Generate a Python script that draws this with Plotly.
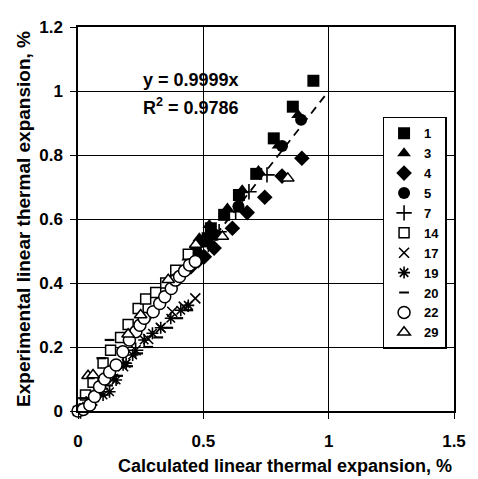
import plotly.graph_objects as go

# ---- data ----
s1_x = [0.47, 0.50, 0.517, 0.53, 0.583, 0.642, 0.711, 0.781, 0.857, 0.939]
s1_y = [0.50, 0.53, 0.54, 0.571, 0.613, 0.675, 0.741, 0.852, 0.951, 1.032]

s3_x = [0.44, 0.47, 0.484, 0.524, 0.596, 0.655, 0.72, 0.80, 0.878]
s3_y = [0.48, 0.52, 0.54, 0.581, 0.633, 0.69, 0.75, 0.83, 0.925]

s4_x = [0.45, 0.48, 0.504, 0.543, 0.616, 0.675, 0.745, 0.814, 0.893]
s4_y = [0.45, 0.47, 0.482, 0.509, 0.571, 0.620, 0.668, 0.734, 0.790]

s5_x = [0.48, 0.55, 0.64, 0.814, 0.89]
s5_y = [0.49, 0.55, 0.64, 0.828, 0.91]

s7_x = [0.01, 0.05, 0.09, 0.14, 0.18, 0.23, 0.52, 0.563, 0.629, 0.682, 0.754]
s7_y = [0.0, 0.04, 0.07, 0.11, 0.15, 0.19, 0.52, 0.56, 0.623, 0.685, 0.738]

s14_x = [0.03, 0.06, 0.10, 0.13, 0.17, 0.20, 0.24, 0.27, 0.31, 0.35, 0.39, 0.44]
s14_y = [0.05, 0.09, 0.15, 0.19, 0.23, 0.27, 0.32, 0.35, 0.37, 0.40, 0.44, 0.49]

s17_x = [0.0, 0.05, 0.09, 0.14, 0.18, 0.23, 0.28, 0.33, 0.376, 0.422, 0.468]
s17_y = [0.0, 0.03, 0.06, 0.10, 0.14, 0.19, 0.225, 0.26, 0.31, 0.326, 0.352]

s19_x = [0.02, 0.06, 0.10, 0.126, 0.152, 0.192, 0.218, 0.264, 0.297, 0.33, 0.37, 0.41, 0.44]
s19_y = [0.01, 0.03, 0.05, 0.06, 0.097, 0.149, 0.175, 0.222, 0.243, 0.26, 0.29, 0.315, 0.33]

s20_x = [0.02, 0.093, 0.126, 0.03, 0.08, 0.12, 0.16, 0.20, 0.24, 0.28, 0.32, 0.36, 0.40, 0.44]
s20_y = [0.04, 0.165, 0.222, 0.01, 0.05, 0.08, 0.11, 0.14, 0.18, 0.20, 0.23, 0.26, 0.29, 0.315]

s22_x = [0.0, 0.021, 0.047, 0.066, 0.086, 0.106, 0.126, 0.152, 0.179, 0.205,
         0.231, 0.247, 0.264, 0.300, 0.326, 0.346, 0.372, 0.389, 0.405, 0.425,
         0.445, 0.468]
s22_y = [0.0, 0.005, 0.019, 0.045, 0.076, 0.100, 0.122, 0.144, 0.185, 0.222,
         0.248, 0.268, 0.29, 0.31, 0.336, 0.357, 0.383, 0.409, 0.420, 0.438,
         0.456, 0.467]

s29_x = [0.04, 0.06, 0.20, 0.25, 0.36, 0.47, 0.576, 0.837]
s29_y = [0.11, 0.1125, 0.24, 0.30, 0.41, 0.52, 0.545, 0.727]

trend_slope = 0.9999
trend_x = [0.0, 1.0]
r_squared = 0.9786

x_ticks = [0, 0.5, 1, 1.5]
x_tick_labels = ["0", "0.5", "1", "1.5"]
y_ticks = [0, 0.2, 0.4, 0.6, 0.8, 1.0, 1.2]
y_tick_labels = ["0", "0.2", "0.4", "0.6", "0.8", "1", "1.2"]

FONT = "Liberation Sans, Arial, sans-serif"

series = [
    ("1", s1_x, s1_y, dict(symbol="square", size=12, color="black")),
    ("3", s3_x, s3_y, dict(symbol="triangle-up", size=12, color="black")),
    ("4", s4_x, s4_y, dict(symbol="diamond", size=12, color="black")),
    ("5", s5_x, s5_y, dict(symbol="circle", size=12, color="black")),
    ("7", s7_x, s7_y, dict(symbol="cross-thin", size=11, color="black",
                            line=dict(color="black", width=1.6))),
    ("14", s14_x, s14_y, dict(symbol="square", size=10, color="white",
                              line=dict(color="black", width=1.5))),
    ("17", s17_x, s17_y, dict(symbol="x-thin", size=10, color="black",
                              line=dict(color="black", width=1.6))),
    ("19", s19_x, s19_y, dict(symbol="asterisk", size=10, color="black",
                              line=dict(color="black", width=1.6))),
    ("20", s20_x, s20_y, dict(symbol="line-ew", size=7, color="black",
                              line=dict(color="black", width=2.2))),
    ("22", s22_x, s22_y, dict(symbol="circle", size=12, color="white",
                              line=dict(color="black", width=1.5))),
    ("29", s29_x, s29_y, dict(symbol="triangle-up", size=11, color="white",
                              line=dict(color="black", width=1.5))),
]

fig = go.Figure()

fig.add_trace(go.Scatter(
    x=trend_x, y=[trend_slope * v for v in trend_x], mode="lines",
    line=dict(color="black", width=1.8, dash="8px,6px"),
    showlegend=False, hoverinfo="skip"))

for name, xs, ys, mk in series:
    fig.add_trace(go.Scatter(x=xs, y=ys, mode="markers", name=name,
                             marker=mk, cliponaxis=False))

axis_common = dict(
    showgrid=True, gridcolor="black", gridwidth=1.3,
    showline=True, linecolor="black", linewidth=1.5, mirror=True,
    ticks="outside", ticklen=6, tickcolor="black", tickwidth=1.3,
    zeroline=False,
    tickfont=dict(family=FONT, size=17, color="black", weight="bold"),
)

fig.update_layout(
    width=478, height=479,
    margin=dict(l=78, r=21, t=27, b=68),
    paper_bgcolor="white", plot_bgcolor="white",
    font=dict(family=FONT, color="black"),
    xaxis=dict(range=[0, 1.5], tickvals=x_ticks, ticktext=x_tick_labels,
               ticklabelstandoff=8, **axis_common),
    yaxis=dict(range=[0, 1.2], tickvals=y_ticks, ticktext=y_tick_labels,
               ticklabelstandoff=4,
               title=dict(text="Experimental linear thermal expansion, %",
                          font=dict(family=FONT, size=19, color="black", weight="bold"),
                          standoff=4),
               **axis_common),
    legend=dict(x=0.81, y=0.766, xanchor="left", yanchor="top",
                bgcolor="white", bordercolor="black", borderwidth=1.5,
                font=dict(family=FONT, size=13, color="black", weight="bold"),
                tracegroupgap=0, itemwidth=30),
    annotations=[
        dict(x=0.551, y=-0.143, xref="paper", yref="paper", showarrow=False,
             xanchor="center", yanchor="middle",
             text="Calculated linear thermal expansion, %",
             font=dict(family=FONT, size=18, color="black", weight="bold")),
        dict(x=0.449, y=1.034, xref="x", yref="y", showarrow=False,
             text="y = 0.9999x",
             font=dict(family=FONT, size=18, color="black", weight="bold")),
        dict(x=0.449, y=0.953, xref="x", yref="y", showarrow=False,
             text="R<sup>2</sup> = " + str(r_squared),
             font=dict(family=FONT, size=18, color="black", weight="bold")),
    ],
)

fig.write_html("out.html")
